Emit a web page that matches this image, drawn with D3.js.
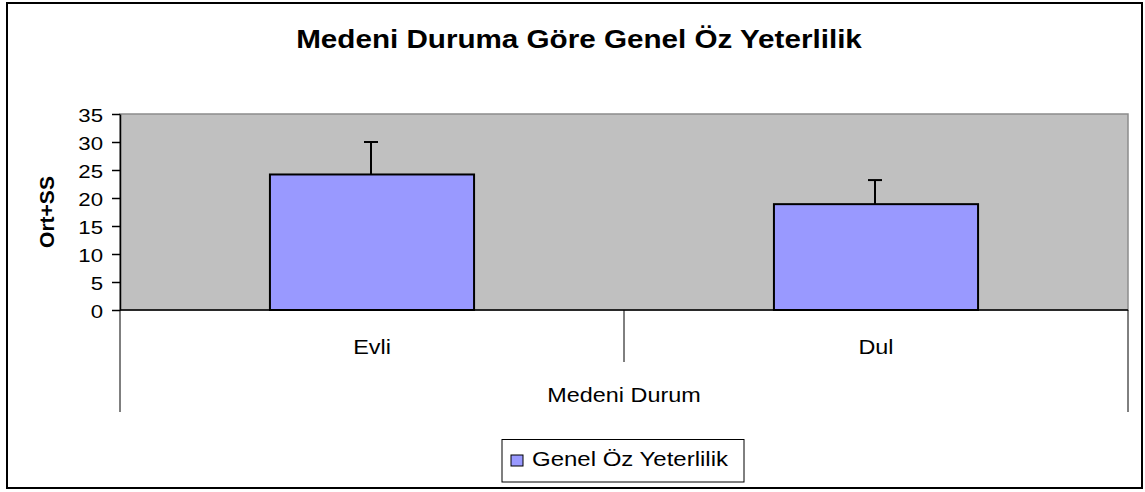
<!DOCTYPE html>
<html>
<head>
<meta charset="utf-8">
<title>Medeni Duruma Göre Genel Öz Yeterlilik</title>
<style>
	body { margin: 0; background: #fff; }
	svg text { font-family: "Liberation Sans", Arial, sans-serif; fill: #000; }
</style>
<script src="https://d3js.org/d3.v7.min.js"></script>
</head>
<body>
<svg id="chart" width="1145" height="492"></svg>
<script>
	const categories = ['Evli', 'Dul'];
	const means = [24.2, 18.9];
	const sds = [5.8, 4.3];
	const yTicks = [0, 5, 10, 15, 20, 25, 30, 35];
	const seriesName = 'Genel Öz Yeterlilik';

	const W = 1145, H = 492;
	const plot = {left: 120, right: 1128, top: 114, bottom: 310};
	const sx = 1.17; // the picture is a bit wider than tall

	const svg = d3.select('#chart');

	// text with horizontal stretch
	function stext(x, y, txt, size, opts = {}) {
		const g = svg.append('g').attr('transform', `translate(${x},${y}) ${opts.rotate ? 'rotate(-90)' : ''} scale(${opts.rotate ? 1 : (opts.sx || sx)},${opts.rotate ? 1 : 1})`);
		return g.append('text')
			.attr('text-anchor', opts.anchor || 'middle')
			.attr('font-size', size)
			.attr('font-weight', opts.bold ? 'bold' : 'normal')
			.text(txt);
	}

	// outer frame
	svg.append('rect')
		.attr('x', 7).attr('y', 3).attr('width', 1135).attr('height', 485)
		.attr('fill', '#fff').attr('stroke', '#000').attr('stroke-width', 2);

	const x = d3.scaleBand().domain(categories).range([plot.left, plot.right]).paddingInner(0).paddingOuter(0);
	const y = d3.scaleLinear().domain([0, 35]).range([plot.bottom, plot.top]);
	const barW = x.bandwidth() * 0.405;

	// plot area
	svg.append('rect')
		.attr('x', plot.left).attr('y', plot.top)
		.attr('width', plot.right - plot.left).attr('height', plot.bottom - plot.top)
		.attr('fill', '#c0c0c0').attr('stroke', '#8c8c8c').attr('stroke-width', 1.5);

	// bars
	svg.selectAll('rect.bar').data(categories).join('rect')
		.attr('class', 'bar')
		.attr('x', d => x(d) + x.bandwidth() / 2 - barW / 2)
		.attr('y', (d, i) => y(means[i]))
		.attr('width', barW)
		.attr('height', (d, i) => y(0) - y(means[i]))
		.attr('fill', '#9999ff').attr('stroke', '#000').attr('stroke-width', 2);

	// error bars (up only)
	categories.forEach((c, i) => {
		const cx = x(c) + x.bandwidth() / 2 - 1;
		svg.append('line')
			.attr('x1', cx).attr('x2', cx)
			.attr('y1', y(means[i])).attr('y2', y(means[i] + sds[i]))
			.attr('stroke', '#000').attr('stroke-width', 2);
		svg.append('line')
			.attr('x1', cx - 7).attr('x2', cx + 7)
			.attr('y1', y(means[i] + sds[i])).attr('y2', y(means[i] + sds[i]))
			.attr('stroke', '#000').attr('stroke-width', 2);
	});

	// y axis
	const yAxis = svg.append('g')
		.attr('transform', `translate(${plot.left},0)`)
		.call(d3.axisLeft(y).tickValues(yTicks).tickSize(8).tickSizeOuter(0));
	yAxis.select('.domain').attr('stroke', '#000').attr('stroke-width', 1.5);
	yAxis.selectAll('.tick line').attr('stroke', '#000').attr('stroke-width', 1.5);
	yAxis.selectAll('.tick text').remove();
	yTicks.forEach(t => stext(103, y(t) + 7.5, String(t), 19, {anchor: 'end'}));

	// x axis baseline
	svg.append('line')
		.attr('x1', plot.left).attr('x2', plot.right)
		.attr('y1', plot.bottom).attr('y2', plot.bottom)
		.attr('stroke', '#000').attr('stroke-width', 1.5);

	// category separators
	const seps = [plot.left, ...categories.slice(1).map(c => x(c)), plot.right];
	seps.forEach((s, i) => {
		const outer = i === 0 || i === seps.length - 1;
		svg.append('line')
			.attr('x1', s).attr('x2', s)
			.attr('y1', plot.bottom).attr('y2', outer ? 412 : 362)
			.attr('stroke', '#000').attr('stroke-width', 1);
	});

	// category labels
	categories.forEach(c => stext(x(c) + x.bandwidth() / 2, 354, c, 20));

	// axis titles
	stext((plot.left + plot.right) / 2, 402, 'Medeni Durum', 20);
	stext(54, 212, 'Ort+SS', 21, {bold: true, rotate: true});

	// title
	stext(579, 48, 'Medeni Duruma Göre Genel Öz Yeterlilik', 26, {bold: true, sx: 1.14});

	// legend
	svg.append('rect')
		.attr('x', 502).attr('y', 439.5).attr('width', 242).attr('height', 42.5)
		.attr('fill', '#fff').attr('stroke', '#000').attr('stroke-width', 1);
	svg.append('rect')
		.attr('x', 511).attr('y', 455).attr('width', 12).attr('height', 11)
		.attr('fill', '#9999ff').attr('stroke', '#000').attr('stroke-width', 1);
	stext(532, 466, seriesName, 20, {anchor: 'start', sx: 1.2});
</script>
</body>
</html>
